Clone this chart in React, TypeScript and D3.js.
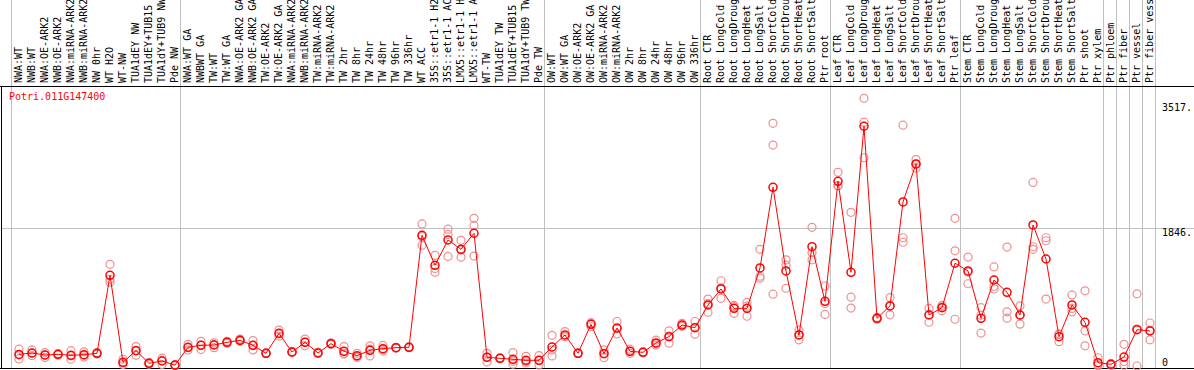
import React from "react";
import * as d3 from "d3";

const title = "Potri.011G147400";

const categories = [
  "NWA:WT", "NWB:WT", "NWA:OE-ARK2", "NWB:OE-ARK2", "NWA:miRNA-ARK2", "NWB:miRNA-ARK2", "NW 0hr", "WT H2O", "WT-NW",
  "TUA1dEY NW", "TUA1dEY+TUB15 NW", "TUA1dY+TUB9 NW", "Pde NW",
  "NWA:WT GA", "NWBWT GA", "TW:WT", "TW:WT GA", "NWA:OE-ARK2 GA", "NWB:OE-ARK2 GA", "TW:OE-ARK2", "TW:OE-ARK2 GA",
  "NWA:miRNA-ARK2", "NWB:miRNA-ARK2", "TW:miRNA-ARK2", "TW:miRNA-ARK2", "TW 2hr", "TW 8hr", "TW 24hr", "TW 48hr",
  "TW 96hr", "TW 336hr", "WT ACC", "35S::etr1-1 H2O", "35S::etr1-1 ACC", "LMX5::etr1-1 H2O", "LMX5::etr1-1 ACC",
  "WT-TW", "TUA1dEY TW", "TUA1dEY+TUB15 TW", "TUA1dY+TUB9 TW", "Pde TW",
  "OW:WT", "OW:WT GA", "OW:OE-ARK2", "OW:OE-ARK2 GA", "OW:miRNA-ARK2", "OW:miRNA-ARK2", "OW 2hr", "OW 8hr",
  "OW 24hr", "OW 48hr", "OW 96hr", "OW 336hr",
  "Root CTR", "Root LongCold", "Root LongDrought", "Root LongHeat", "Root LongSalt", "Root ShortCold",
  "Root ShortDrought", "Root ShortHeat", "Root ShortSalt", "Ptr root",
  "Leaf CTR", "Leaf LongCold", "Leaf LongDrought", "Leaf LongHeat", "Leaf LongSalt", "Leaf ShortCold",
  "Leaf ShortDrought", "Leaf ShortHeat", "Leaf ShortSalt", "Ptr leaf",
  "Stem CTR", "Stem LongCold", "Stem LongDrought", "Stem LongHeat", "Stem LongSalt", "Stem ShortCold",
  "Stem ShortDrought", "Stem ShortHeat", "Stem ShortSalt", "Ptr shoot", "Ptr xylem",
  "Ptr phloem", "Ptr fiber", "Ptr vessel", "Ptr fiber vessel",
];

const means = [
  155, 174, 147, 156, 143, 151, 170, 1213, 49, 205, 36, 67, 12,
  250, 277, 281, 317, 343, 277, 170, 437, 187, 317, 174, 299, 196, 138, 210, 232, 245, 250,
  1748, 1347, 1685, 1561, 1775, 116, 103, 90, 76, 76,
  254, 415, 170, 557, 165, 508, 196, 183, 308, 392, 548, 512,
  816, 1030, 771, 771, 1311, 2390, 1271, 415, 1596, 865,
  2470, 1253, 3206, 638, 803, 2194, 2702, 682, 780, 1374,
  1271, 638, 1150, 986, 682, 1886, 1431, 392, 816, 584, 44,
  23, 120, 486, 468,
];

const rep1 = [
  225, 215, 180, 165, 205, 190, 180, 1360, 90, 260, 50, 105, 20,
  290, 330, 310, 330, 360, 340, 175, 480, 195, 360, 185, 310, 260, 170, 270, 275, 250, 255,
  1900, 1480, 1830, 1680, 1975, 170, 110, 180, 130, 140,
  410, 460, 175, 580, 215, 595, 225, 190, 345, 470, 570, 595,
  895, 1140, 810, 850, 1560, 3245, 1420, 480, 1855, 1070,
  2590, 2055, 3580, 650, 915, 3220, 2760, 770, 810, 1975,
  1455, 780, 1325, 1590, 805, 2455, 1715, 430, 950, 1005, 110,
  35, 290, 965, 575,
];

const rep2 = [
  150, 170, 145, 155, 135, 145, 170, 1160, 40, 210, 35, 75, 10,
  245, 280, 285, 315, 340, 275, 170, 430, 185, 320, 175, 300, 170, 130, 225, 220, 245, 250,
  1730, 1305, 1760, 1550, 1880, 120, 100, 65, 60, 75,
  215, 395, 170, 565, 170, 500, 195, 180, 300, 400, 545, 515,
  835, 1045, 795, 800, 1200, 2955, 1350, 415, 1515, 835,
  2410, 920, 3260, 640, 810, 1715, 2700, 690, 790, 1540,
  1255, 680, 1065, 725, 680, 1595, 1675, 420, 770, 470, 20,
  25, 60, 495, 480,
];

const rep3 = [
  95, 140, 115, 145, 90, 120, 160, 1120, 20, 145, 25, 20, 5,
  215, 220, 245, 305, 330, 215, 165, 400, 180, 270, 165, 290, 160, 115, 135, 200, 240, 245,
  1615, 1255, 1465, 1455, 1470, 55, 100, 25, 40, 15,
  135, 390, 165, 525, 110, 430, 170, 180, 280, 305, 530, 425,
  720, 905, 705, 665, 1175, 960, 1040, 350, 1420, 690,
  2410, 775, 2785, 625, 685, 1655, 2645, 585, 740, 625,
  1100, 440, 1030, 640, 560, 1560, 895, 325, 725, 270, 5,
  10, 10, 0, 350,
];

// group boundaries: number of columns before each separator line
const boundaries = [0, 13, 41, 53, 63, 73, 84, 85, 86, 87, 88];
const yTicks = [3517, 1846, 0];
const yTickLabels = ["3517.", "1846.", "0"];

const W = 1194;
const H = 370;
const FONT = "'DejaVu Sans Mono', monospace";

export default function App() {
  const x = d3.scaleLinear().domain([0, categories.length - 1]).range([19, 1150]);
  const y = d3.scaleLinear().domain([0, 3517]).range([366, 103]);
  const step = x(1) - x(0);

  const line = d3
    .line<number>()
    .x((_, i) => x(i))
    .y((d) => y(d));

  const reps = [rep1, rep2, rep3];
  const repColor = "#ee9090";
  const red = "#ff0000";
  const grid = "#c0c0c0";

  return (
    <svg
      width={W}
      height={H}
      style={{ position: "absolute", left: 0, top: 0, background: "#fff" }}
    >
      {/* vertical separators */}
      {boundaries.map((b) => {
        const xx = Math.floor(x(b - 1) + step / 2 - 1) + 0.5;
        return <line key={"b" + b} x1={xx} x2={xx} y1={0} y2={369} stroke={grid} strokeWidth={1} />;
      })}
      {/* horizontal grid line */}
      <line x1={1} x2={W} y1={Math.round(y(1846)) + 0.5} y2={Math.round(y(1846)) + 0.5} stroke={grid} strokeWidth={1} />

      {/* frame */}
      <line x1={0} x2={W} y1={86.5} y2={86.5} stroke="#000" strokeWidth={1} />
      <line x1={0} x2={W} y1={368.5} y2={368.5} stroke="#000" strokeWidth={1} />
      <line x1={1.5} x2={1.5} y1={86} y2={369} stroke="#000" strokeWidth={1} />

      {/* column labels */}
      {categories.map((c, i) => (
        <text
          key={"l" + i}
          transform={`translate(${x(i) + 3},83) rotate(-90)`}
          fontFamily={FONT}
          fontSize={10}
          fill="#000"
        >
          {c}
        </text>
      ))}

      {/* title */}
      <text x={9} y={100} fontFamily={FONT} fontSize={10} fill={red}>
        {title}
      </text>

      {/* right axis labels */}
      {yTicks.map((t, i) => (
        <text
          key={"t" + i}
          x={1162}
          y={t === 0 ? 366 : y(t) + 8}
          fontFamily={FONT}
          fontSize={10}
          fill="#000"
        >
          {yTickLabels[i]}
        </text>
      ))}

      {/* replicate circles */}
      {reps.map((r, k) =>
        r.map((v, i) => (
          <circle
            key={`r${k}-${i}`}
            cx={x(i)}
            cy={y(v)}
            r={4}
            fill="none"
            stroke={repColor}
            strokeWidth={1.2}
          />
        ))
      )}

      {/* mean line */}
      <path d={line(means) || ""} fill="none" stroke={red} strokeWidth={1} />

      {/* mean circles */}
      {means.map((v, i) => (
        <circle key={"m" + i} cx={x(i)} cy={y(v)} r={4} fill="none" stroke={red} strokeWidth={1.5} />
      ))}
    </svg>
  );
}
